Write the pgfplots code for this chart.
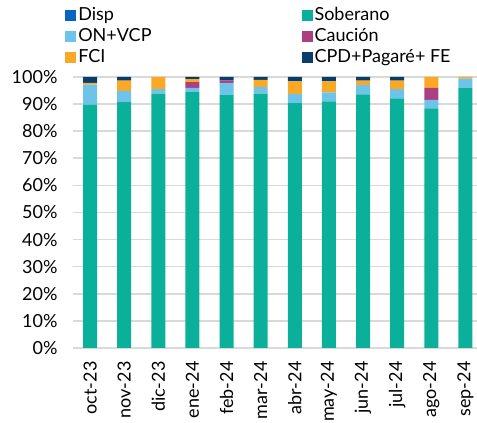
\documentclass[border=0pt]{standalone}
\usepackage{pgfplots}
\pgfplotsset{compat=1.18}
\usepackage{pgfplotstable}
\usepackage{fontspec}
\setmainfont{Lato}
\definecolor{cdisp}{HTML}{0563C1}
\definecolor{csob}{HTML}{0BB09A}
\definecolor{con}{HTML}{6EC4E8}
\definecolor{ccau}{HTML}{AC3E82}
\definecolor{cfci}{HTML}{FBA925}
\definecolor{ccpd}{HTML}{0B3D6C}
\pgfplotstableread{
x sob on cau fci cpd disp
0 89.8 7.4 0 0.6 2.2 0
1 90.7 4.2 0 3.8 1.3 0
2 93.9 1.6 0 4.5 0 0
3 94.4 1.6 2.1 1.1 0.8 0
4 93.3 4.5 1.0 0 1.2 0
5 93.9 2.5 0 2.5 1.1 0
6 90.4 3.4 0 4.6 1.6 0
7 91.0 3.3 0 4.1 1.6 0
8 93.6 3.5 0 1.6 1.3 0
9 92.1 3.4 0 3.2 1.3 0
10 88.4 3.2 4.4 4.0 0 0
11 96.1 3.3 0 0.6 0 0
}\datatable
\begin{document}
\begin{tikzpicture}
\begin{axis}[name=ax, scale only axis, width=404pt, height=271pt,
  xmin=-0.5, xmax=11.34, ymin=0, ymax=100, enlargelimits=false,
  ybar stacked, bar width=14pt,
  xtick={0,...,11},
  xticklabels={oct-23,nov-23,dic-23,ene-24,feb-24,mar-24,abr-24,may-24,jun-24,jul-24,ago-24,sep-24},
  xticklabel style={yshift=-10pt, rotate=90, anchor=east, font=\fontsize{18}{21}\selectfont},
  ytick={0,10,...,100},
  yticklabel={\pgfmathprintnumber{\tick}\%},
  yticklabel style={xshift=-12pt, font=\fontsize{18}{21}\selectfont},
  /pgf/number format/assume math mode=true,
  ymajorgrids, grid style={draw=black!15, line width=1.6pt},
  axis line style={draw=none}, major tick length=0pt,
  legend columns=2, legend cell align=left,
  legend image code/.code={\fill[#1] (0pt,-5pt) rectangle (11pt,6pt);},
  legend style={at={(axis description cs:-0.027,1.273)}, anchor=north west,
    draw=none, fill=none, font=\fontsize{18}{21}\selectfont,
    row sep=0pt, nodes={inner sep=2pt, text height=13pt, text depth=4pt},
    /tikz/every even column/.append style={column sep=148pt}},
]
\addplot[fill=cdisp, draw=none] table[x=x,y=disp]{\datatable};
\addlegendentry{Disp}
\addplot[fill=csob, draw=none] table[x=x,y=sob]{\datatable};
\addlegendentry{Soberano}
\addplot[fill=con, draw=none] table[x=x,y=on]{\datatable};
\addlegendentry{ON+VCP}
\addplot[fill=ccau, draw=none] table[x=x,y=cau]{\datatable};
\addlegendentry{Caución}
\addplot[fill=cfci, draw=none] table[x=x,y=fci]{\datatable};
\addlegendentry{FCI}
\addplot[fill=ccpd, draw=none] table[x=x,y=cpd]{\datatable};
\addlegendentry{CPD+Pagaré+ FE}
\end{axis}
\pgfresetboundingbox
\path[use as bounding box] (ax.south west) ++(-73pt,-75pt) rectangle ++(477pt,423pt);
\end{tikzpicture}
\end{document}
